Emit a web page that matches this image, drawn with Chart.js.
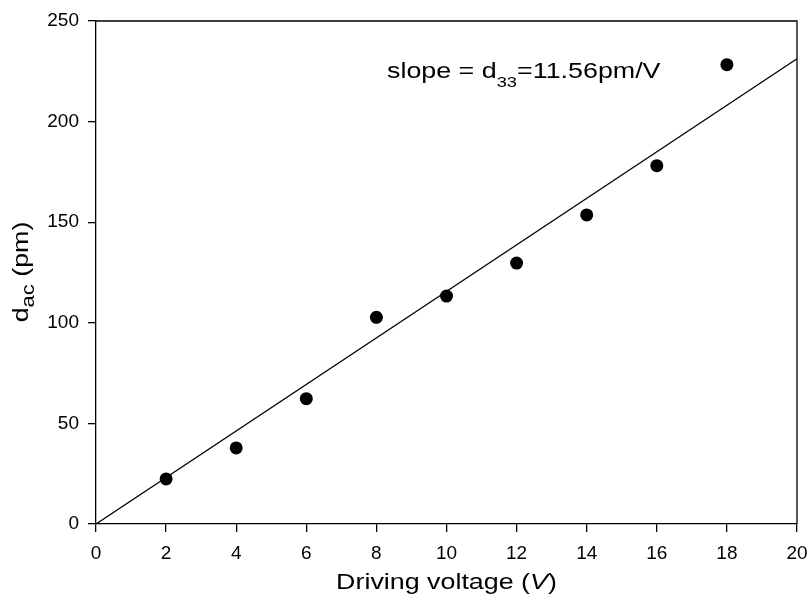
<!DOCTYPE html>
<html>
<head>
<meta charset="utf-8">
<script src="https://cdn.jsdelivr.net/npm/chart.js@4/dist/chart.umd.min.js"></script>
<style>
  html, body { margin: 0; padding: 0; background: #fff; }
  #wrap { width: 811px; height: 597px; }
</style>
</head>
<body>
<div id="wrap"><canvas id="chart"></canvas></div>
<script>
// measured displacement vs. driving voltage
const voltage = [2, 4, 6, 8, 10, 12, 14, 16, 18];
const dac = [22.4, 37.8, 62.3, 102.7, 113.3, 129.7, 153.6, 178.1, 228.3];

// linear fit through origin, slope = d33 (pm/V)
const slope = 11.56;
const fitX = [0, 20];
const fitY = fitX.map(v => slope * v);

const xTicks = [0, 2, 4, 6, 8, 10, 12, 14, 16, 18, 20];
const yTicks = [0, 50, 100, 150, 200, 250];

const FONT = "'Liberation Sans', Arial, sans-serif";
const STRETCH = 1.22; // titles are drawn slightly wide

// draws text pieces [text, size, dy, italic] one after another
function drawRuns(ctx, runs, x, y) {
  let cx = x;
  for (const r of runs) {
    ctx.font = (r[3] ? 'italic ' : '') + r[1] + 'px ' + FONT;
    ctx.fillText(r[0], cx, y + r[2]);
    cx += ctx.measureText(r[0]).width;
  }
  return cx;
}
function runsWidth(ctx, runs) {
  let w = 0;
  for (const r of runs) {
    ctx.font = (r[3] ? 'italic ' : '') + r[1] + 'px ' + FONT;
    w += ctx.measureText(r[0]).width;
  }
  return w;
}

const titles = {
  id: 'titles',
  afterDraw(chart) {
    const ctx = chart.ctx;
    const a = chart.chartArea;
    ctx.save();
    ctx.fillStyle = '#000';
    ctx.textBaseline = 'alphabetic';
    ctx.textAlign = 'left';

    // frame: top and right edges
    ctx.strokeStyle = '#000';
    ctx.lineWidth = 1.3;
    ctx.beginPath();
    ctx.moveTo(a.left, a.top);
    ctx.lineTo(a.right, a.top);
    ctx.lineTo(a.right, a.bottom);
    ctx.stroke();

    // x axis title
    const xRuns = [['Driving voltage (', 22, 0], ['V', 22, 0, true], [')', 22, 0]];
    const xw = runsWidth(ctx, xRuns) * STRETCH;
    ctx.save();
    ctx.translate((a.left + a.right) / 2 - xw / 2, 589);
    ctx.scale(STRETCH, 1);
    drawRuns(ctx, xRuns, 0, 0);
    ctx.restore();

    // y axis title, rotated
    const yRuns = [['d', 22, 0], ['ac', 18, 6], [' (pm)', 22, 0]];
    const yw = runsWidth(ctx, yRuns) * STRETCH;
    ctx.save();
    ctx.translate(28, 272 + yw / 2);
    ctx.rotate(-Math.PI / 2);
    ctx.scale(STRETCH, 1);
    drawRuns(ctx, yRuns, 0, 0);
    ctx.restore();

    // slope annotation
    ctx.save();
    ctx.translate(387, 78);
    ctx.scale(STRETCH, 1);
    drawRuns(ctx, [['slope = d', 22, 0], ['33', 15, 9], ['=' + slope.toFixed(2) + 'pm/V', 22, 0]], 0, 0);
    ctx.restore();

    ctx.restore();
  }
};

new Chart(document.getElementById('chart'), {
  type: 'scatter',
  data: {
    datasets: [
      {
        label: 'fit',
        data: fitX.map((v, i) => ({ x: v, y: fitY[i] })),
        showLine: true,
        borderColor: '#000',
        borderWidth: 1.3,
        pointRadius: 0,
        fill: false
      },
      {
        label: 'data',
        data: voltage.map((v, i) => ({ x: v, y: dac[i] })),
        backgroundColor: '#000',
        borderWidth: 0,
        pointRadius: 6.5
      }
    ]
  },
  options: {
    responsive: true,
    maintainAspectRatio: false,
    animation: false,
    layout: { padding: { top: 21, right: 14, left: 0, bottom: 0 } },
    plugins: { legend: { display: false }, tooltip: { enabled: false } },
    scales: {
      x: {
        type: 'linear',
        min: 0,
        max: 20,
        afterBuildTicks: s => { s.ticks = xTicks.map(v => ({ value: v })); },
        afterFit: s => { s.height = 73; s.paddingLeft = 0; s.paddingRight = 0; },
        grid: { drawOnChartArea: false, drawTicks: true, tickLength: 8, color: '#000', lineWidth: 1.3 },
        border: { color: '#000', width: 1.3 },
        ticks: { color: '#000', padding: 10, maxRotation: 0, font: { family: FONT, size: 19 } }
      },
      y: {
        type: 'linear',
        min: 0,
        max: 250,
        afterBuildTicks: s => { s.ticks = yTicks.map(v => ({ value: v })); },
        afterFit: s => { s.width = 96; s.paddingTop = 0; s.paddingBottom = 0; },
        grid: { drawOnChartArea: false, drawTicks: true, tickLength: 8, color: '#000', lineWidth: 1.3 },
        border: { color: '#000', width: 1.3 },
        ticks: { color: '#000', padding: 9, font: { family: FONT, size: 19 } }
      }
    }
  },
  plugins: [titles]
});
</script>
</body>
</html>
